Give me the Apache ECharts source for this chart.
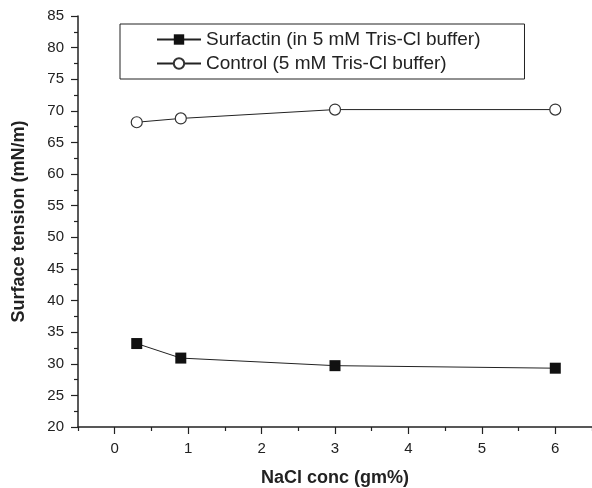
<!DOCTYPE html>
<html>
<head>
<meta charset="utf-8">
<script src="https://cdn.jsdelivr.net/npm/echarts@6/dist/echarts.min.js"></script>
<style>
  html, body { margin: 0; padding: 0; background: #fff; }
  #chart { width: 592px; height: 488px; }
</style>
</head>
<body>
<div id="chart"></div>
<script>
// NaCl concentration (gm%)
const nacl = [0.3, 0.9, 3, 6];
// surface tension (mN/m)
const surfactin = [33.2, 30.9, 29.7, 29.3];
const control = [68.2, 68.8, 70.2, 70.2];
const xMajorTicks = [0, 1, 2, 3, 4, 5, 6];
const xMinorTicks = [-0.5, 0.5, 1.5, 2.5, 3.5, 4.5, 5.5, 6.5];

const ink = '#222';
const font = 'Liberation Sans, Arial, sans-serif';

const chart = echarts.init(document.getElementById('chart'));
chart.setOption({
    animation: false,
    grid: { left: 78, right: 0, top: 16, bottom: 61, containLabel: false, outerBoundsMode: 'none' },
    legend: {
        orient: 'vertical',
        left: 120,
        top: 24,
        padding: [6, 44, 6, 36],
        borderColor: ink,
        borderWidth: 1,
        itemWidth: 44,
        itemHeight: 13,
        itemGap: 5,
        textStyle: { fontFamily: font, fontSize: 19, color: ink },
        data: ['Surfactin (in 5 mM Tris-Cl buffer)', 'Control (5 mM Tris-Cl buffer)']
    },
    xAxis: [
        {
            type: 'value',
            min: -0.5,
            max: 6.5,
            name: 'NaCl conc (gm%)',
            nameLocation: 'middle',
            nameGap: 42,
            nameTextStyle: { fontFamily: font, fontSize: 18, fontWeight: 'bold', color: ink },
            axisLine: { onZero: false, lineStyle: { color: ink, width: 1.5 } },
            axisTick: { customValues: xMajorTicks, length: 7, lineStyle: { color: ink, width: 1.2 } },
            axisLabel: { customValues: xMajorTicks, margin: 14, fontFamily: font, fontSize: 15, color: ink },
            splitLine: { show: false }
        },
        {
            type: 'value',
            min: -0.5,
            max: 6.5,
            position: 'bottom',
            axisLine: { show: false, onZero: false },
            axisTick: { customValues: xMinorTicks, length: 4, lineStyle: { color: ink, width: 1.2 } },
            axisLabel: { show: false },
            splitLine: { show: false }
        }
    ],
    yAxis: {
        type: 'value',
        min: 20,
        max: 85,
        interval: 5,
        name: 'Surface tension (mN/m)',
        nameLocation: 'middle',
        nameGap: 50,
        nameTextStyle: { fontFamily: font, fontSize: 18, fontWeight: 'bold', color: ink },
        axisLine: { show: true, onZero: false, lineStyle: { color: ink, width: 1.5 } },
        axisTick: { show: true, length: 7, lineStyle: { color: ink, width: 1.2 } },
        minorTick: { show: true, splitNumber: 2, length: 4, lineStyle: { color: ink, width: 1.2 } },
        axisLabel: { margin: 14, fontFamily: font, fontSize: 15, color: ink },
        splitLine: { show: false }
    },
    series: [
        {
            name: 'Surfactin (in 5 mM Tris-Cl buffer)',
            type: 'line',
            data: nacl.map((x, i) => [x, surfactin[i]]),
            symbol: 'rect',
            symbolSize: 11,
            itemStyle: { color: '#111', borderWidth: 0 },
            lineStyle: { color: ink, width: 1 }
        },
        {
            name: 'Control (5 mM Tris-Cl buffer)',
            type: 'line',
            data: nacl.map((x, i) => [x, control[i]]),
            symbol: 'circle',
            symbolSize: 11,
            itemStyle: { color: '#fff', borderColor: '#333', borderWidth: 1.2 },
            lineStyle: { color: ink, width: 1 }
        }
    ]
});
</script>
</body>
</html>
